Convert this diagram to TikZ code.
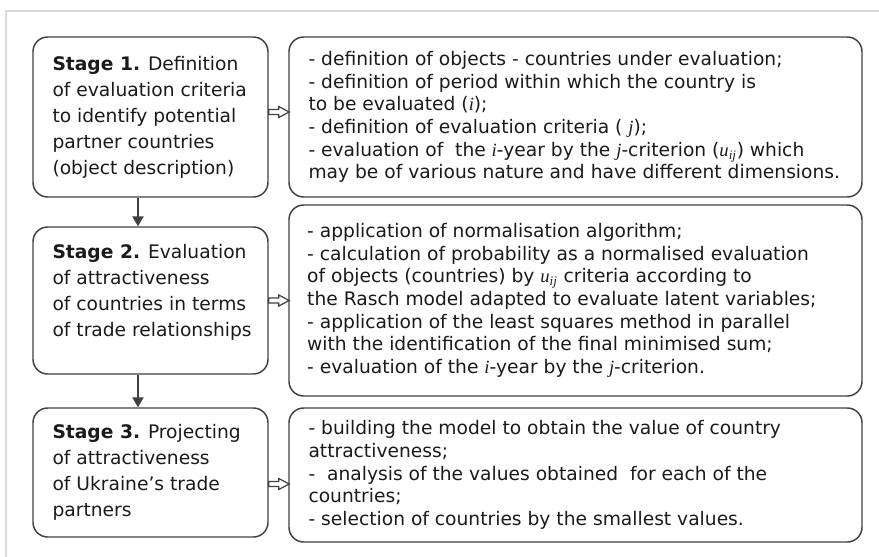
\documentclass[tikz,border=0pt]{standalone}
\usepackage{fontspec}
\setmainfont{DejaVu Sans}
\newfontfamily\timesfont{Liberation Serif}
\usetikzlibrary{arrows.meta}
\newcommand{\vr}[1]{{\timesfont\itshape #1}}
\newcommand{\uij}{\vr{u}\textsubscript{\vr{ij}}}
\definecolor{boxline}{HTML}{404040}
\definecolor{frameline}{HTML}{D9D9D9}
\definecolor{ink}{HTML}{1A1A1A}
\tikzset{
	stagebox/.style={draw=boxline, line width=1.1pt, rounded corners=11pt, inner sep=0pt, minimum width=176.25pt},
	taskbox/.style={draw=boxline, line width=1.1pt, rounded corners=11pt, inner sep=0pt, minimum width=429.75pt},
	stagetext/.style={anchor=west, align=left, inner sep=0pt, text=ink, font=\fontsize{14}{19.5}\selectfont},
	tasktext/.style={anchor=west, align=left, inner sep=0pt, text=ink, font=\fontsize{14}{17}\selectfont},
	down/.style={draw=boxline, line width=1.1pt, -{Triangle[length=7.5pt,width=8.5pt]}},
	hollow/.style={draw=boxline, line width=0.9pt, fill=white, line join=miter}
}
\begin{document}
\begin{tikzpicture}[x=0.75pt, y=-0.75pt]
	\useasboundingbox (0,0) rectangle (879,557);
	\begin{scope}
		\clip (0,0) rectangle (879,557);
		\draw[frameline, line width=2.2pt] (6,11) rectangle (900,580);
	\end{scope}
	\node[stagebox, minimum height=120pt] (s1) at (150.5,117) {};
	\node[stagebox, minimum height=110.25pt] (s2) at (150.5,300.5) {};
	\node[stagebox, minimum height=96.75pt] (s3) at (150.5,472.5) {};
	\node[taskbox, minimum height=120pt] (r1) at (575.5,117) {};
	\node[taskbox, minimum height=143.25pt] (r2) at (575.5,300.5) {};
	\node[taskbox, minimum height=100.5pt] (r3) at (575.5,475) {};
	\node[stagetext] (t1) at ([xshift=15pt]s1.west) {\textbf{Stage 1.} Definition\\of evaluation criteria\\to identify potential\\partner countries\\(object description)};
	\node[stagetext] (t2) at ([xshift=15pt,yshift=6pt]s2.west) {\textbf{Stage 2.} Evaluation\\of attractiveness\\of countries in terms\\of trade relationships};
	\node[stagetext] (t3) at ([xshift=15pt]s3.west) {\textbf{Stage 3.} Projecting\\of attractiveness\\of Ukraine’s trade\\partners};
	\node[tasktext] (d1) at ([xshift=15pt]r1.west) {- definition of objects - countries under evaluation;\\- definition of period within which the country is\\to be evaluated (\vr{i});\\- definition of evaluation criteria ( \vr{j});\\- evaluation of \ the \vr{i}-year by the \vr{j}-criterion (\uij) which\\may be of various nature and have different dimensions.};
	\node[tasktext] (d2) at ([xshift=14pt]r2.west) {- application of normalisation algorithm;\\- calculation of probability as a normalised evaluation\\of objects (countries) by \uij\ criteria according to\\the Rasch model adapted to evaluate latent variables;\\- application of the least squares method in parallel\\with the identification of the final minimised sum;\\- evaluation of the \vr{i}-year by the \vr{j}-criterion.};
	\node[tasktext] (d3) at ([xshift=15pt]r3.west) {- building the model to obtain the value of country\\attractiveness;\\- \ analysis of the values obtained \ for each of the\\countries;\\- selection of countries by the smallest values.};
	\draw[down] ([xshift=-9.4pt]s1.south) -- ([xshift=-9.4pt]s2.north);
	\draw[down] ([xshift=-9.4pt]s2.south) -- ([xshift=-9.4pt]s3.north);
	\foreach \k/\dy in {1/-5,2/0,3/11.5}
		\draw[hollow] (s\k.east) ++(0,\dy) ++(0,-2.5) -- ++(10,0) -- ++(0,-3) -- ++(10.5,5.5) -- ++(-10.5,5.5) -- ++(0,-3) -- ++(-10,0) -- cycle;
\end{tikzpicture}
\end{document}
